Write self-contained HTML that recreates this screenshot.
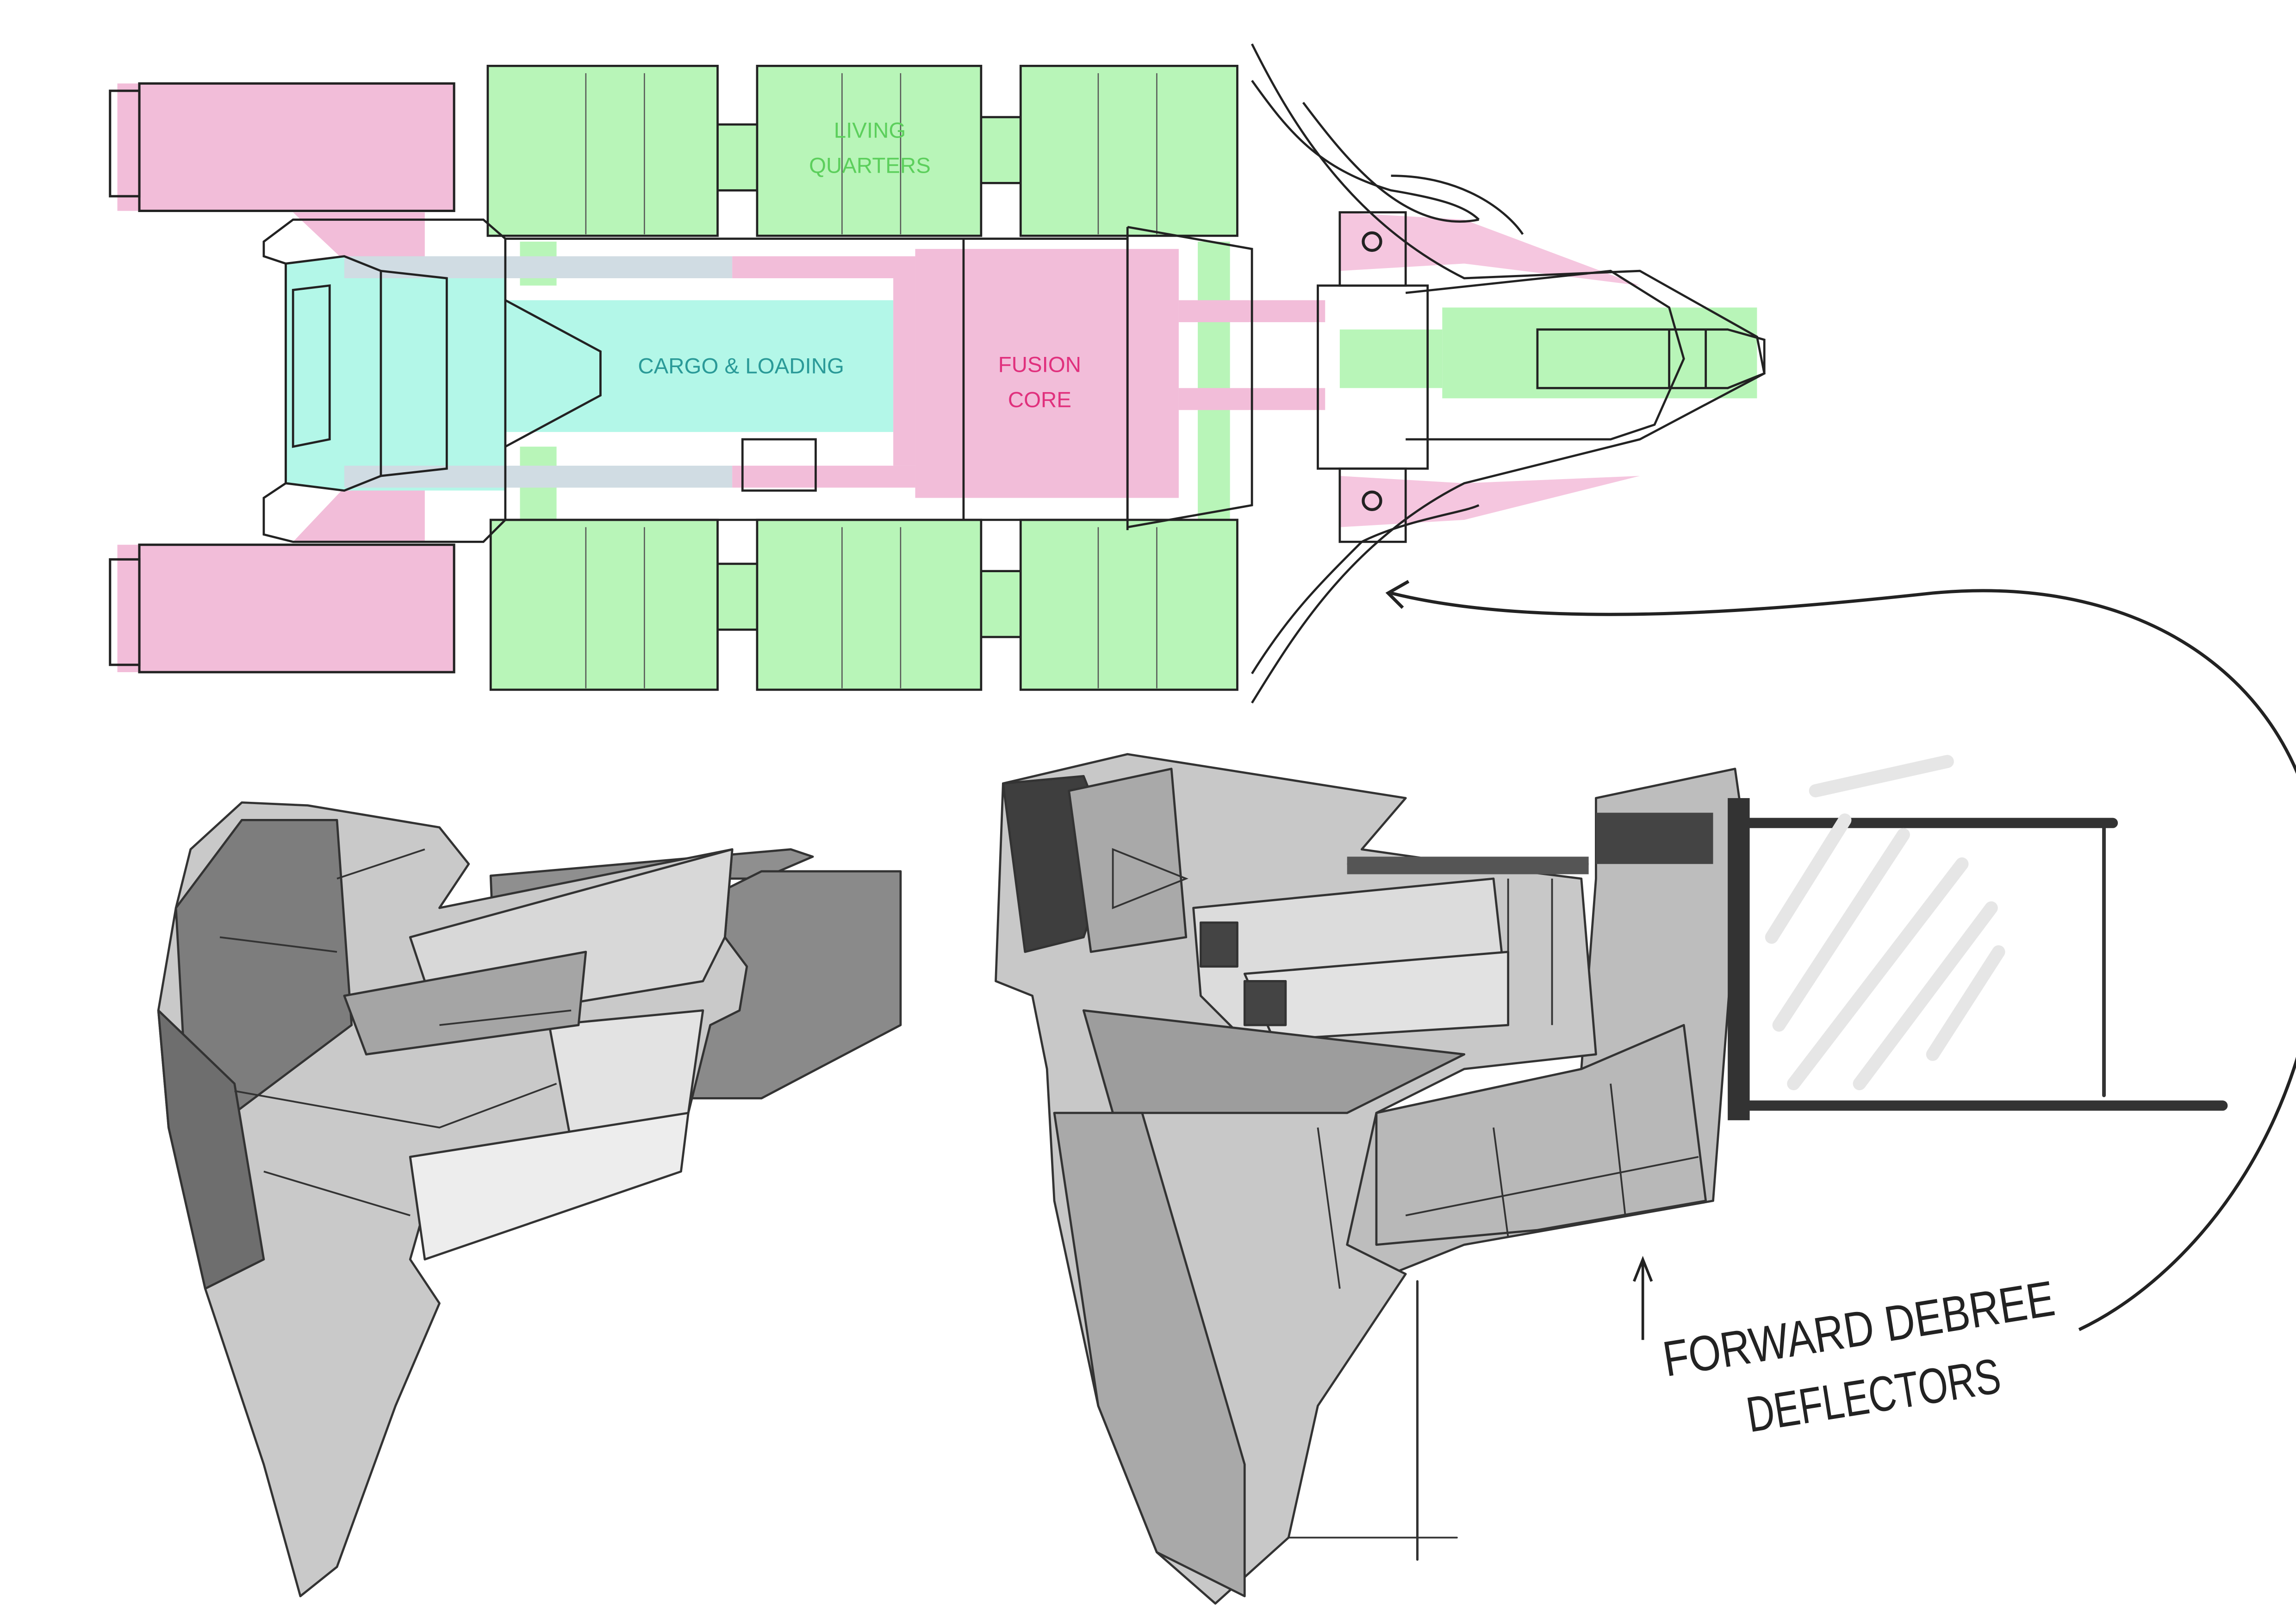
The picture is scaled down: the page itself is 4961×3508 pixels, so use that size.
<!DOCTYPE html>
<html><head><meta charset="utf-8"><style>
html,body{margin:0;padding:0;background:#fff;}
svg{display:block;}
</style></head><body>
<svg width="4961" height="3508" viewBox="0 0 1568 1109" xmlns="http://www.w3.org/2000/svg" font-family="Liberation Sans, sans-serif">
<rect width="1568" height="1109" fill="#fff"/>
<!-- ===== TOP PLAN ===== -->
<g>
<!-- pink engine blocks -->
<rect x="80" y="57" width="230" height="87" fill="#f2bdd9"/>
<rect x="80" y="372" width="230" height="87" fill="#f2bdd9"/>
<g fill="none" stroke="#222" stroke-width="1.6">
<rect x="95" y="57" width="215" height="87"/>
<rect x="75" y="62" width="20" height="72"/>
<rect x="95" y="372" width="215" height="87"/>
<rect x="75" y="382" width="20" height="72"/>
</g>
<!-- pink connectors from engines -->
<polygon points="200,145 290,145 290,178 235,178" fill="#f2bdd9"/>
<polygon points="235,333 290,333 290,370 200,370" fill="#f2bdd9"/>
<!-- green modules -->
<g fill="#b8f5b8">
<rect x="333" y="45" width="157" height="116"/>
<rect x="517" y="45" width="153" height="116"/>
<rect x="697" y="45" width="148" height="116"/>
<rect x="335" y="355" width="155" height="116"/>
<rect x="517" y="355" width="153" height="116"/>
<rect x="697" y="355" width="148" height="116"/>
<rect x="490" y="85" width="27" height="45"/>
<rect x="670" y="80" width="27" height="45"/>
<rect x="490" y="385" width="27" height="45"/>
<rect x="670" y="390" width="27" height="45"/>
<rect x="818" y="165" width="22" height="190"/>
<rect x="355" y="165" width="25" height="30"/>
<rect x="355" y="305" width="25" height="50"/>
<rect x="985" y="210" width="215" height="62"/>
<rect x="915" y="225" width="70" height="40"/>
</g>
<g fill="none" stroke="#222" stroke-width="1.5">
<rect x="333" y="45" width="157" height="116"/>
<rect x="517" y="45" width="153" height="116"/>
<rect x="697" y="45" width="148" height="116"/>
<rect x="335" y="355" width="155" height="116"/>
<rect x="517" y="355" width="153" height="116"/>
<rect x="697" y="355" width="148" height="116"/>
<path d="M490,85 H517 M490,130 H517 M670,80 H697 M670,125 H697 M490,385 H517 M490,430 H517 M670,390 H697 M670,435 H697"/>
</g>
<g stroke="#555" stroke-width="0.8">
<path d="M400,50 V160 M440,50 V160 M575,50 V160 M615,50 V160 M750,50 V160 M790,50 V160 M400,360 V470 M440,360 V470 M575,360 V470 M615,360 V470 M750,360 V470 M790,360 V470"/>
</g>
<!-- cyan cargo -->
<polygon points="195,180 235,175 345,175 345,205 610,205 610,295 345,295 345,335 235,335 195,330" fill="#b3f7e8"/>
<rect x="235" y="175" width="265" height="15" fill="#d0dce3"/>
<rect x="235" y="318" width="265" height="15" fill="#d0dce3"/>
<!-- pink frame & core -->
<rect x="500" y="175" width="125" height="15" fill="#f2bdd9"/>
<rect x="500" y="318" width="125" height="15" fill="#f2bdd9"/>
<rect x="610" y="190" width="15" height="128" fill="#f2bdd9"/>
<rect x="625" y="170" width="180" height="170" fill="#f2bdd9"/>
<rect x="805" y="205" width="100" height="15" fill="#f2bdd9"/>
<rect x="805" y="265" width="100" height="15" fill="#f2bdd9"/>
<polygon points="915,145 1000,150 1120,195 1000,180 915,185" fill="#f5c6df"/>
<polygon points="915,325 1000,330 1120,325 1000,355 915,360" fill="#f5c6df"/>
<!-- hull outlines -->
<g fill="none" stroke="#222" stroke-width="1.5">
<path d="M345,163 H770 V355 H345 Z"/>
<path d="M770,155 L855,170 V345 L770,360"/>
<path d="M345,163 L330,150 H200 L180,165 V175 L195,180 V330 L180,340 V365 L200,370 H330 L345,355"/>
<path d="M195,180 L235,175 L260,185 V325 L235,335 L195,330 Z"/>
<path d="M200,198 L225,195 V300 L200,305 Z"/>
<path d="M260,185 L305,190 V320 L260,325"/>
<path d="M345,205 L410,240 V270 L345,305"/>
<path d="M658,163 V355"/>
<path d="M770,155 V362"/>
<rect x="507" y="300" width="50" height="35"/>
<!-- nose -->
<path d="M855,30 C880,80 920,150 1000,190 L1120,185 L1200,230 L1205,255 L1120,300 L1000,330 C920,370 880,440 855,480"/>
<path d="M900,195 H975 V320 H900 Z"/>
<path d="M915,145 H960 V195 H915 Z M915,320 H960 V370 H915 Z"/>
<path d="M960,200 L1100,185 L1140,210 L1150,245 L1130,290 L1100,300 L960,300"/>
<path d="M1050,225 H1180 L1205,232 V255 L1180,265 H1050 Z"/>
<path d="M1140,225 V265 M1165,225 V265"/>
<path d="M855,55 C880,90 900,115 950,130 C980,135 1000,140 1010,150"/>
<path d="M855,460 C880,420 900,400 930,370 C960,355 1000,350 1010,345"/>
<path d="M890,70 C920,110 960,160 1010,150"/>
<path d="M950,120 C1000,120 1030,145 1040,160"/>
</g>
<circle cx="937" cy="165" r="6" fill="none" stroke="#222" stroke-width="2"/>
<circle cx="937" cy="342" r="6" fill="none" stroke="#222" stroke-width="2"/>
<!-- labels -->
<g font-size="15" text-anchor="middle">
<text x="594" y="94" fill="#5ccf5c">LIVING</text>
<text x="594" y="118" fill="#5ccf5c">QUARTERS</text>
<text x="506" y="255" fill="#2a9a98">CARGO &amp; LOADING</text>
<text x="710" y="254" fill="#e0307d">FUSION</text>
<text x="710" y="278" fill="#e0307d">CORE</text>
</g>
</g>
<!-- big arrow -->
<path d="M950,405 C1050,430 1200,418 1320,405 C1480,390 1580,480 1585,600 C1590,760 1500,870 1420,908" fill="none" stroke="#222" stroke-width="2.2"/>
<path d="M962,397 L948,405 L958,415" fill="none" stroke="#222" stroke-width="2.2"/>
<!-- ===== LEFT SHIP ===== -->
<g stroke="#333" stroke-width="1.5" stroke-linejoin="round">
<polygon points="335,598 540,580 555,585 520,600 470,600 470,750 340,720" fill="#8f8f8f"/>
<polygon points="520,595 615,595 615,700 520,750 470,750 470,620" fill="#8a8a8a"/>
<polygon points="130,580 165,548 210,550 300,565 320,590 300,620 500,580 495,640 510,660 505,690 485,700 470,760 390,780 300,790 280,860 300,890 270,960 230,1070 205,1090 180,1000 140,880 115,770 108,690 120,620" fill="#c9c9c9"/>
<polygon points="280,640 500,580 495,640 480,670 300,700" fill="#d8d8d8"/>
<polygon points="375,700 480,690 470,760 390,780" fill="#e3e3e3"/>
<polygon points="280,790 470,760 465,800 290,860" fill="#ededed"/>
<polygon points="120,620 165,560 230,560 240,700 160,760 130,800" fill="#7d7d7d"/>
<polygon points="108,690 160,740 180,860 140,880 115,770" fill="#6e6e6e"/>
<polygon points="235,680 400,650 395,700 250,720" fill="#a5a5a5"/>
</g>
<g fill="none" stroke="#333" stroke-width="1.2">
<path d="M160,745 L300,770 L380,740 M180,800 L280,830 M300,700 L390,690 M230,600 L290,580 M150,640 L230,650"/>
</g>
<!-- ===== RIGHT SHIP ===== -->
<g stroke="#333" stroke-width="1.5" stroke-linejoin="round">
<polygon points="1090,545 1185,525 1190,560 1170,820 1000,850 950,870 915,880 900,830 940,760 1080,730 1090,600" fill="#bdbdbd"/>
<polygon points="685,535 770,515 960,545 930,580 1000,590 1080,600 1090,720 1000,730 940,760 920,850 960,870 900,960 880,1050 830,1095 790,1060 750,960 720,820 715,730 705,680 680,670" fill="#c8c8c8"/>
<polygon points="685,535 740,530 760,580 740,640 700,650" fill="#3e3e3e"/>
<polygon points="730,540 800,525 810,640 745,650" fill="#a9a9a9"/>
<polygon points="815,620 1020,600 1030,690 850,710 820,680" fill="#dcdcdc"/>
<polygon points="850,665 1030,650 1030,700 870,710" fill="#e2e2e2"/>
<polygon points="820,630 845,630 845,660 820,660" fill="#444"/>
<polygon points="850,670 878,670 878,700 850,700" fill="#444"/>
<polygon points="740,690 1000,720 920,760 760,760" fill="#9d9d9d"/>
<polygon points="940,760 1080,730 1150,700 1165,820 1050,840 940,850" fill="#b8b8b8"/>
<polygon points="720,760 780,760 850,1000 850,1090 790,1060 750,960" fill="#a9a9a9"/>
</g>
<g fill="none" stroke="#333" stroke-width="1.2">
<path d="M920,590 H1085 M1030,600 V700 M1060,600 V700 M900,770 L915,880 M960,830 L1160,790 M1020,770 L1030,845 M1100,740 L1110,830 M760,580 L810,600 L760,620 Z"/>
</g>
<rect x="920" y="585" width="165" height="12" fill="#555"/>
<rect x="1090" y="555" width="80" height="35" fill="#444"/>
<!-- frame box -->
<rect x="1180" y="545" width="15" height="220" fill="#333"/>
<g fill="none" stroke="#333" stroke-linecap="round">
<path d="M1195,562 H1443" stroke-width="7"/>
<path d="M1195,755 H1518" stroke-width="7"/>
<path d="M1437,565 V748" stroke-width="2.5"/>
<path d="M968,875 V1065" stroke-width="1.6"/>
<path d="M880,1050 H995" stroke-width="1.2"/>
</g>
<g stroke="#e6e6e6" stroke-width="9" stroke-linecap="round">
<path d="M1210,640 L1260,560 M1215,700 L1300,570 M1225,740 L1340,590 M1270,740 L1360,620 M1320,720 L1365,650 M1240,540 L1330,520"/>
</g>
<!-- annotation -->
<path d="M1122,915 V862 M1116,875 L1122,860 L1128,875" fill="none" stroke="#222" stroke-width="1.8"/>
<g font-family="Liberation Sans Narrow, Liberation Sans, sans-serif" fill="#222" font-size="34">
<text x="1138" y="940" transform="rotate(-9 1138 940)" textLength="270" lengthAdjust="spacingAndGlyphs">FORWARD DEBREE</text>
<text x="1195" y="978" transform="rotate(-9 1195 978)" textLength="175" lengthAdjust="spacingAndGlyphs">DEFLECTORS</text>
</g>
</svg>
</body></html>
